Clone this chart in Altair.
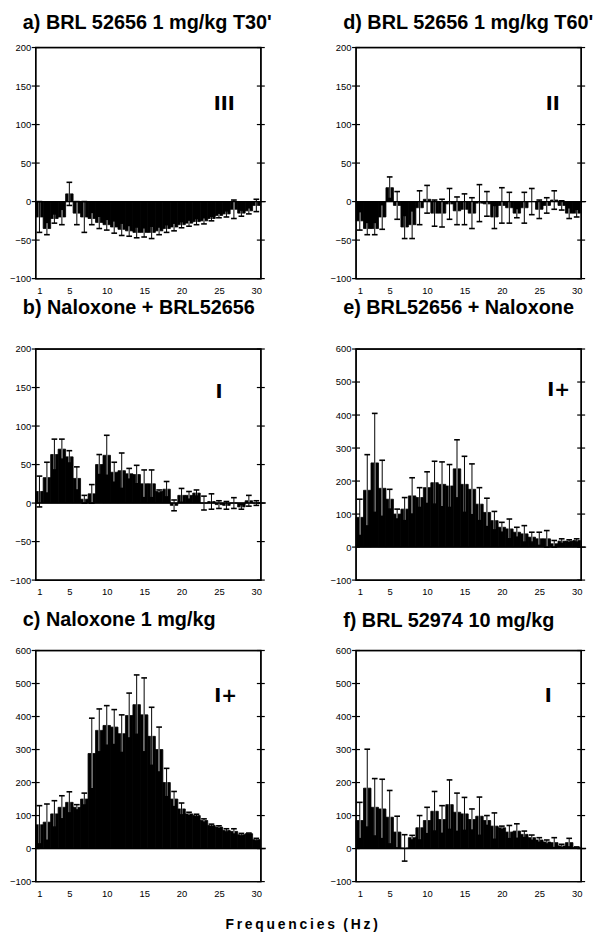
import altair as alt
import pandas as pd

freqs = list(range(1, 31))

# a) BRL 52656 1 mg/kg T30'
a_vals = [-20, -35, -22, -20, 10, -15, -20, -22, -27, -30, -33, -36, -38, -40, -40,
          -40, -38, -35, -33, -30, -28, -26, -25, -22, -18, -16, -10, -15, -12, -5]
a_err = [20, 8, 6, 10, 15, 15, 20, 8, 8, 7, 8, 8, 7, 7, 6,
         8, 5, 5, 5, 4, 4, 4, 4, 3, 3, 4, 12, 4, 4, 8]

# d) BRL 52656 1 mg/kg T60'
d_vals = [-25, -35, -35, -20, 18, -5, -33, -30, -8, 3, -15, -15, -3, -12, -10,
          -15, -2, -3, -20, -5, -8, -15, -8, 0, -10, -5, 2, -5, -15, -15]
d_err = [12, 8, 8, 16, 14, 18, 15, 18, 22, 18, 17, 18, 20, 18, 20,
         20, 24, 16, 15, 23, 20, 6, 20, 17, 12, 10, 12, 6, 7, 5]

# b) Naloxone + BRL52656
b_vals = [15, 33, 63, 70, 60, 32, 5, 12, 50, 62, 40, 42, 38, 37, 25,
          25, 15, 18, -3, 10, 10, 13, 0, 2, -2, -3, 0, -5, 3, 0]
b_err = [20, 20, 20, 13, 8, 15, 5, 12, 13, 26, 13, 23, 7, 12, 18,
         18, 2, 10, 7, 9, 5, 4, 9, 10, 5, 5, 7, 3, 7, 3]

# e) BRL52656 + Naloxone
e_vals = [90, 172, 255, 178, 145, 100, 115, 155, 150, 180, 195, 190, 185, 237, 190,
          175, 130, 105, 80, 60, 55, 45, 40, 30, 25, 25, 10, 18, 18, 20]
e_err = [55, 108, 150, 85, 30, 15, 35, 55, 30, 48, 65, 68, 65, 88, 85,
         77, 50, 43, 28, 15, 30, 15, 25, 15, 20, 25, 10, 7, 4, 5]

# c) Naloxone 1 mg/kg
c_vals = [72, 80, 105, 125, 140, 125, 150, 288, 358, 373, 368, 348, 403, 436, 405,
          340, 300, 200, 150, 120, 105, 100, 85, 70, 65, 55, 52, 42, 45, 27]
c_err = [58, 55, 40, 35, 32, 8, 18, 107, 65, 60, 53, 57, 68, 90, 112,
         88, 68, 43, 23, 18, 5, 4, 5, 4, 4, 5, 8, 4, 2, 4]

# f) BRL 52974 10 mg/kg
f_vals = [85, 183, 125, 120, 95, 50, 2, 33, 63, 85, 113, 88, 133, 110, 105,
          88, 98, 85, 68, 63, 50, 53, 43, 33, 26, 20, 18, 8, 18, 3]
f_err = [55, 118, 87, 90, 81, 48, 40, 7, 37, 40, 60, 42, 75, 58, 50,
         32, 58, 15, 40, 5, 20, 22, 10, 8, 7, 6, 15, 5, 13, 2]

x_ticks = [1, 5, 10, 15, 20, 25, 30]
ticks_small = [-100, -50, 0, 50, 100, 150, 200]
ticks_large = [-100, 0, 100, 200, 300, 400, 500, 600]

W, H = 227, 233
FONT = "Liberation Sans"


def panel(title, vals, errs, dom, ticks, label, lx, ly, toff):
    df = pd.DataFrame({"f": freqs, "v": vals, "e": errs})
    xs = alt.Scale(domain=[0.5, 30.6], nice=False, zero=False)
    ys = alt.Scale(domain=dom, nice=False, zero=False)
    xax = alt.Axis(values=x_ticks, ticks=False, domain=False, grid=False,
                   labelFontSize=9.5, labelFont=FONT, labelColor="black",
                   labelPadding=7, labelOverlap=False, labelFlush=False,
                   title=None)
    yax = alt.Axis(values=ticks, ticks=False, domain=False, grid=False,
                   labelFontSize=9.5, labelFont=FONT, labelColor="black",
                   labelPadding=5, labelOverlap=False, labelFlush=False,
                   title=None)

    def X(f):
        return alt.X(f, scale=xs, axis=xax)

    def Y(f):
        return alt.Y(f, scale=ys, axis=yax)

    base = alt.Chart(df).transform_calculate(
        lo="datum.f - 0.5", hi="datum.f + 0.5", z="0",
        top="datum.v + datum.e", bot="datum.v - datum.e",
        c1="datum.f - 0.38", c2="datum.f + 0.38")
    bars = base.mark_rect(color="black", stroke="black", strokeWidth=0.8).encode(
        x=X("lo:Q"), x2="hi:Q", y=Y("v:Q"), y2="z:Q")
    halo = base.mark_rule(color="white", strokeWidth=1.6).encode(
        x=X("f:Q"), y=Y("bot:Q"), y2="top:Q")
    whisk = base.mark_rule(color="black", strokeWidth=1).encode(
        x=X("f:Q"), y=Y("bot:Q"), y2="top:Q")
    cap_t = base.mark_rule(color="black", strokeWidth=1.6).encode(
        x=X("c1:Q"), x2="c2:Q", y=Y("top:Q"))
    cap_b = base.mark_rule(color="black", strokeWidth=1.6).encode(
        x=X("c1:Q"), x2="c2:Q", y=Y("bot:Q"))
    zdf = pd.DataFrame({"zz": [0]})
    zero = alt.Chart(zdf).mark_rule(color="black", strokeWidth=1.4).encode(
        y=Y("zz:Q"), x=alt.value(0), x2=alt.value(W + 5))
    tdf = pd.DataFrame({"t": ticks})
    tl = alt.Chart(tdf).mark_rule(color="black", strokeWidth=1.2).encode(
        y=Y("t:Q"), x=alt.value(-4), x2=alt.value(4))
    tr = alt.Chart(tdf).mark_rule(color="black", strokeWidth=1.2).encode(
        y=Y("t:Q"), x=alt.value(W - 4), x2=alt.value(W + 4))
    frame = alt.Chart(zdf).mark_rect(fill="white", fillOpacity=0, stroke="black",
                                     strokeWidth=1.4).encode(
        x=alt.value(0), x2=alt.value(W), y=alt.value(0), y2=alt.value(H))
    ldf = pd.DataFrame({"x": [lx], "y": [ly], "s": [label]})
    txt = alt.Chart(ldf).mark_text(font="DejaVu Sans", fontSize=19,
                                   fontWeight="bold", color="black").encode(
        x=X("x:Q"), y=Y("y:Q"), text="s:N")
    return alt.layer(bars, halo, whisk, cap_t, cap_b, zero, tl, tr, frame, txt).properties(
        width=W, height=H,
        view=alt.ViewBackground(stroke="black", strokeWidth=1.4, fill="white"),
        title=alt.TitleParams(title, anchor="start", frame="group", dx=-13,
                              offset=toff, fontSize=20, font=FONT,
                              fontWeight="bold", color="black"))


pa = panel("a) BRL 52656 1 mg/kg T30'", a_vals, a_err, [-100, 200], ticks_small, "III", 25.7, 126, 10)
pdd = panel("d) BRL 52656 1 mg/kg T60'", d_vals, d_err, [-100, 200], ticks_small, "II", 26.8, 127, 10)
pb = panel("b) Naloxone + BRL52656", b_vals, b_err, [-100, 200], ticks_small, "I", 25.0, 144, 26)
pe = panel("e) BRL52656 + Naloxone", e_vals, e_err, [-100, 600], ticks_large, "I+", 27.6, 477, 26)
pc = panel("c) Naloxone 1 mg/kg", c_vals, c_err, [-100, 600], ticks_large, "I+", 25.9, 462, 16)
pf = panel("f) BRL 52974 10 mg/kg", f_vals, f_err, [-100, 600], ticks_large, "I", 26.2, 462, 15)

xlabel = "\u2009".join(list("Frequencies")) + "\u2009\u2009\u2009" + "\u2009".join(list("(Hz)"))

chart = alt.concat(pa, pdd, pb, pe, pc, pf, columns=2,
                   spacing={"row": 71, "column": 96}, bounds="flush").properties(
    title=alt.TitleParams(xlabel, orient="bottom", anchor="middle", fontSize=14,
                          font=FONT, fontWeight="bold", color="black", offset=20),
    padding={"left": 8, "top": 8, "right": 5, "bottom": 5},
).configure_view(stroke="black", strokeWidth=1.4).configure_axis(labelOverlap=False)

chart.save("out.html", embed_options={"renderer": "svg", "actions": False})
